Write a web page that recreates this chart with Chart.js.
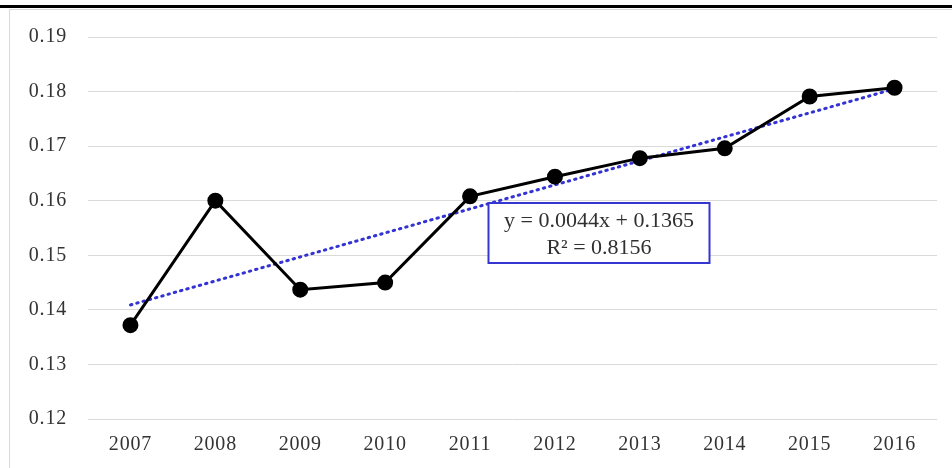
<!DOCTYPE html>
<html>
<head>
<meta charset="utf-8">
<script src="https://cdn.jsdelivr.net/npm/chart.js@4"></script>
<style>
  html, body { margin: 0; padding: 0; background: #fff; }
  #wrap { width: 952px; height: 468px; position: relative; }
</style>
</head>
<body>
<div id="wrap"><canvas id="indexChart" width="952" height="468"></canvas></div>
<script>
const years = ['2007', '2008', '2009', '2010', '2011', '2012', '2013', '2014', '2015', '2016'];
const indexValues = [0.1372, 0.1600, 0.1437, 0.1450, 0.1608, 0.1644, 0.1678, 0.1696, 0.1791, 0.1807];
// linear trend y = 0.0044x + 0.1365, x = 1..10
const trendValues = [0.1409, 0.1453, 0.1497, 0.1541, 0.1585, 0.1629, 0.1673, 0.1717, 0.1761, 0.1805];
const yTicks = [0.12, 0.13, 0.14, 0.15, 0.16, 0.17, 0.18, 0.19];
const trendLabel = ['y = 0.0044x + 0.1365', 'R² = 0.8156'];

const serif = "'Liberation Serif', 'DejaVu Serif', serif";

// outer frame, rule above the chart, and the equation box
const decorations = {
    id: 'decorations',
    beforeDraw(chart) {
        const c = chart.ctx;
        // slightly wider text, applies to the tick labels as well
        c.letterSpacing = '0.8px';
        c.save();
        c.fillStyle = '#ffffff';
        c.fillRect(0, 0, chart.width, chart.height);
        c.fillStyle = '#000000';
        c.fillRect(0, 5, chart.width, 3);
        c.strokeStyle = '#d9d9d9';
        c.lineWidth = 1;
        c.strokeRect(9.5, 9.5, chart.width + 10, chart.height + 10);
        c.restore();
    },
    afterDraw(chart) {
        const c = chart.ctx;
        const x = chart.scales.x;
        const left = (x.getPixelForValue(4) + x.getPixelForValue(5)) / 2 - 24;
        const top = 203;
        const w = 221, h = 60;
        c.save();
        c.fillStyle = '#ffffff';
        c.fillRect(left, top, w, h);
        c.strokeStyle = '#3535d0';
        c.lineWidth = 2;
        c.strokeRect(left, top, w, h);
        c.fillStyle = '#303030';
        c.font = '22px ' + serif;
        c.letterSpacing = '0px';
        c.textAlign = 'center';
        c.textBaseline = 'middle';
        c.fillText(trendLabel[0], left + w / 2, top + 18);
        c.fillText(trendLabel[1], left + w / 2, top + 45);
        c.restore();
    }
};

const ctx = document.getElementById('indexChart').getContext('2d');
const indexChart = new Chart(ctx, {
    type: 'line',
    data: {
        labels: years,
        datasets: [{
            label: 'Index',
            data: indexValues,
            borderColor: '#000000',
            backgroundColor: '#000000',
            borderWidth: 3,
            pointRadius: 6.5,
            pointHoverRadius: 6.5,
            tension: 0
        }, {
            label: 'Linear trend',
            data: trendValues,
            borderColor: '#3333d4',
            borderWidth: 3,
            borderDash: [1.5, 5],
            borderCapStyle: 'round',
            pointRadius: 0,
            tension: 0
        }]
    },
    options: {
        responsive: false,
        animation: false,
        layout: { padding: { left: 10, right: 15, top: 37, bottom: 0 } },
        plugins: {
            legend: { display: false },
            tooltip: { enabled: false }
        },
        scales: {
            x: {
                offset: true,
                grid: { display: false },
                border: { display: false },
                ticks: {
                    color: '#333333',
                    font: { family: serif, size: 20 },
                    padding: 6,
                    maxRotation: 0
                },
                afterFit: s => { s.height = 49; }
            },
            y: {
                min: 0.12,
                max: 0.19,
                afterBuildTicks: s => { s.ticks = yTicks.map(v => ({ value: v })); },
                grid: { color: '#d9d9d9', lineWidth: 1, drawTicks: false },
                border: { display: false },
                ticks: {
                    color: '#333333',
                    font: { family: serif, size: 20 },
                    padding: 21,
                    callback: v => v.toFixed(2)
                },
                afterFit: s => { s.width = 78; }
            }
        }
    },
    plugins: [decorations]
});
</script>
</body>
</html>
